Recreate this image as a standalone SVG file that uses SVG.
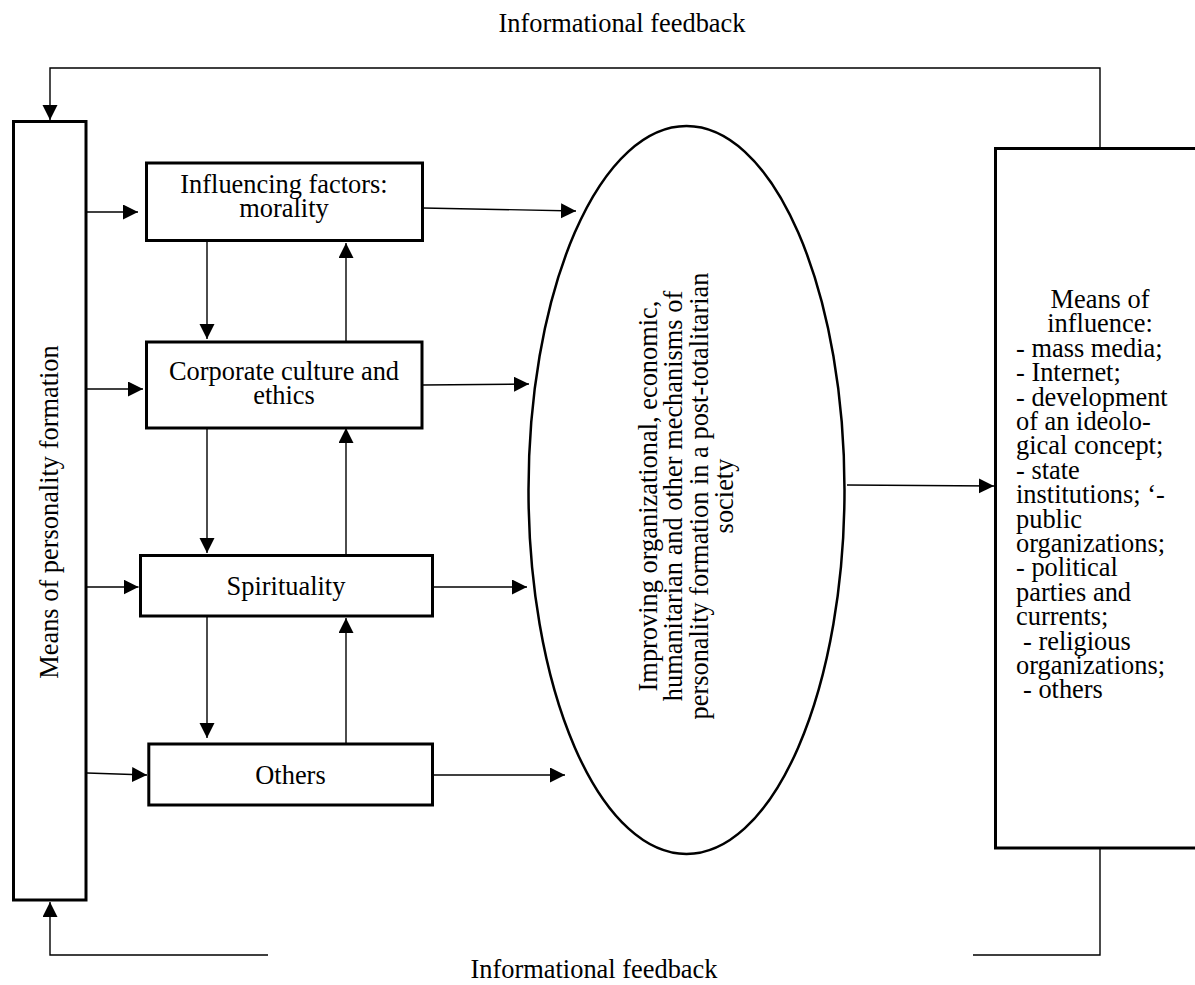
<svg xmlns="http://www.w3.org/2000/svg" width="1195" height="985" viewBox="0 0 1195 985">
<style>
.box{fill:#fff;stroke:#000;stroke-width:3}
.con{fill:none;stroke:#000;stroke-width:1.4}
text{font-family:"Liberation Serif","Times New Roman",serif;font-size:26.4px;fill:#000}
.c{text-anchor:middle}
</style>
<defs>
<marker id="ah" markerUnits="userSpaceOnUse" markerWidth="16" markerHeight="16" refX="15" refY="7.5" orient="auto" viewBox="0 0 16 16">
<path d="M0,0 L15,7.5 L0,15 z" fill="#000"/>
</marker>
</defs>
<rect width="1195" height="985" fill="#fff"/>

<text class="c" x="622" y="32">Informational feedback</text>
<text class="c" x="594" y="978">Informational feedback</text>

<g id="connectors">
<polyline class="con" points="1100,148 1100,68 50,68 50,120" marker-end="url(#ah)"/>
<polyline class="con" points="1100,848 1100,955 973,955"/>
<polyline class="con" points="268,955 50,955 50,902" marker-end="url(#ah)"/>
<line class="con" x1="87" y1="212" x2="138" y2="212" marker-end="url(#ah)"/>
<line class="con" x1="87" y1="389" x2="143" y2="389" marker-end="url(#ah)"/>
<line class="con" x1="87" y1="587" x2="138.5" y2="587" marker-end="url(#ah)"/>
<line class="con" x1="87" y1="773" x2="147" y2="775" marker-end="url(#ah)"/>
<line class="con" x1="207" y1="242" x2="207" y2="339" marker-end="url(#ah)"/>
<line class="con" x1="346" y1="341" x2="346" y2="243" marker-end="url(#ah)"/>
<line class="con" x1="207" y1="429" x2="207" y2="553" marker-end="url(#ah)"/>
<line class="con" x1="346" y1="554" x2="346" y2="428" marker-end="url(#ah)"/>
<line class="con" x1="207" y1="617" x2="207" y2="738" marker-end="url(#ah)"/>
<line class="con" x1="346" y1="743" x2="346" y2="618" marker-end="url(#ah)"/>
<line class="con" x1="423" y1="208" x2="576" y2="211" marker-end="url(#ah)"/>
<line class="con" x1="423" y1="385" x2="529" y2="384" marker-end="url(#ah)"/>
<line class="con" x1="434" y1="587" x2="527" y2="587" marker-end="url(#ah)"/>
<line class="con" x1="434" y1="775" x2="565" y2="775" marker-end="url(#ah)"/>
<line class="con" x1="847" y1="485" x2="994" y2="486" marker-end="url(#ah)"/>
</g>

<g id="means-formation">
<rect class="box" x="13.5" y="121.5" width="72.5" height="778.5"/>
<text class="c" transform="translate(58,512) rotate(-90)">Means of personality formation</text>
</g>

<g id="influencing">
<rect class="box" x="146.5" y="163" width="276" height="77.5"/>
<text class="c" x="284" y="193">Influencing factors:</text>
<text class="c" x="284" y="217">morality</text>
</g>

<g id="corporate">
<rect class="box" x="146.5" y="342" width="275.5" height="86"/>
<text class="c" x="284" y="380">Corporate culture and</text>
<text class="c" x="284" y="404">ethics</text>
</g>

<g id="spirituality">
<rect class="box" x="140.5" y="555.5" width="292" height="60.5"/>
<text class="c" x="286" y="595">Spirituality</text>
</g>

<g id="others">
<rect class="box" x="148.8" y="744" width="283.7" height="61"/>
<text class="c" x="290.5" y="784">Others</text>
</g>

<g id="improving">
<ellipse cx="686.5" cy="490" rx="158" ry="364" fill="#fff" stroke="#000" stroke-width="2.5"/>
<g transform="rotate(-90)" style="font-size:26.8px">
<text class="c" x="-496" y="656.7">Improving organizational, economic,</text>
<text class="c" x="-496" y="681.7">humanitarian and other mechanisms of</text>
<text class="c" x="-496" y="707.7">personality formation in a post-totalitarian</text>
<text class="c" x="-496" y="733.3">society</text>
</g>
</g>

<g id="means-influence">
<rect class="box" x="995.5" y="148.5" width="210" height="699.5"/>
<text class="c" x="1100" y="308">Means of</text>
<text class="c" x="1100" y="332.4">influence:</text>
<text x="1016" y="356.8">- mass media;</text>
<text x="1016" y="381.2">- Internet;</text>
<text x="1016" y="405.6">- development</text>
<text x="1016" y="430">of an ideolo-</text>
<text x="1016" y="454.4">gical concept;</text>
<text x="1016" y="478.8">- state</text>
<text x="1016" y="503.2">institutions; ‘-</text>
<text x="1016" y="527.6">public</text>
<text x="1016" y="552">organizations;</text>
<text x="1016" y="576.4">- political</text>
<text x="1016" y="600.8">parties and</text>
<text x="1016" y="625.2">currents;</text>
<text x="1023" y="649.6">- religious</text>
<text x="1016" y="674">organizations;</text>
<text x="1023" y="698.4">- others</text>
</g>
</svg>
